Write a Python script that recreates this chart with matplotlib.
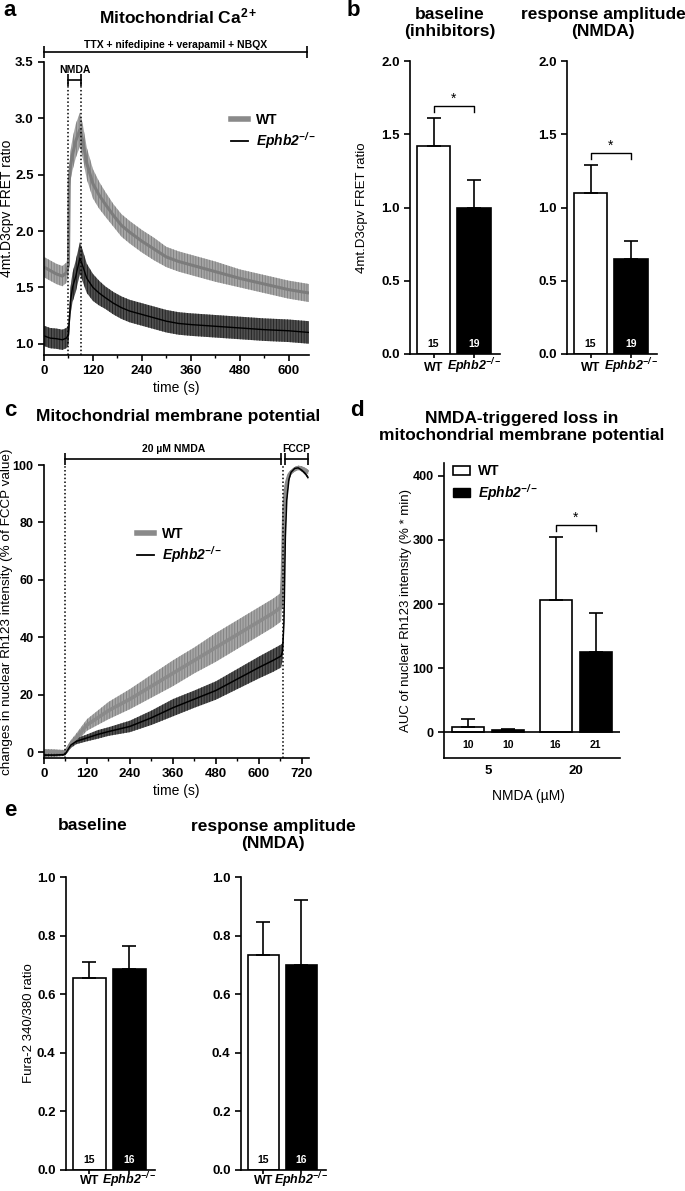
import numpy as np
import matplotlib
matplotlib.use("Agg")
import matplotlib.pyplot as plt
from matplotlib.lines import Line2D
from matplotlib.patches import Patch

plt.rcParams['font.family'] = ['Liberation Sans', 'DejaVu Sans']
plt.rcParams['mathtext.fontset'] = 'custom'
plt.rcParams['mathtext.rm'] = 'Liberation Sans'
plt.rcParams['mathtext.it'] = 'Liberation Sans:italic'
plt.rcParams['mathtext.bf'] = 'Liberation Sans:bold'
plt.rcParams['mathtext.bfit'] = 'Liberation Sans:italic:bold'
plt.rcParams['hatch.linewidth'] = 0.6

# ---- data ----
# a: mitochondrial Ca2+ (4mt.D3cpv FRET ratio), mean and SEM
a_time = [0, 15, 30, 45, 55, 60, 62, 65, 70, 78, 88, 95, 105, 120, 135, 150,
          170, 190, 210, 240, 270, 300, 330, 360, 420, 480, 540, 600, 650]
a_wt = [1.68, 1.65, 1.62, 1.60, 1.63, 1.70, 2.45, 2.58, 2.68, 2.80, 2.90, 2.80,
        2.60, 2.42, 2.32, 2.24, 2.14, 2.05, 1.99, 1.91, 1.84, 1.77, 1.73, 1.70,
        1.64, 1.58, 1.53, 1.48, 1.45]
a_wt_sem = [0.09, 0.09, 0.09, 0.09, 0.09, 0.09, 0.12, 0.13, 0.14, 0.15, 0.15,
            0.15, 0.14, 0.13, 0.12, 0.11, 0.10, 0.10, 0.10, 0.10, 0.10, 0.09,
            0.09, 0.09, 0.09, 0.08, 0.08, 0.08, 0.08]
a_ko = [1.07, 1.05, 1.045, 1.035, 1.05, 1.08, 1.20, 1.38, 1.50, 1.60, 1.76,
        1.69, 1.58, 1.50, 1.45, 1.41, 1.36, 1.32, 1.29, 1.26, 1.23, 1.20, 1.18,
        1.17, 1.155, 1.14, 1.125, 1.115, 1.10]
a_ko_sem = [0.09, 0.09, 0.09, 0.09, 0.09, 0.09, 0.11, 0.12, 0.13, 0.14, 0.14,
            0.14, 0.13, 0.12, 0.11, 0.10, 0.10, 0.10, 0.10, 0.10, 0.10, 0.10,
            0.10, 0.10, 0.10, 0.10, 0.10, 0.10, 0.10]
a_nmda = (60, 90)

# b: bar summaries
b_base = [1.42, 1.00]
b_base_err = [0.19, 0.19]
b_resp = [1.10, 0.65]
b_resp_err = [0.19, 0.12]
b_n = [15, 19]

# c: mitochondrial membrane potential (% of FCCP value)
c_time = [0, 30, 55, 60, 65, 75, 90, 120, 150, 180, 240, 300, 360, 420, 480,
          540, 600, 640, 662, 666, 670, 674, 678, 684, 690, 700, 710, 720, 730, 738]
c_wt = [0.3, 0.2, 0.0, 0.0, 1.0, 3.0, 5.0, 9.5, 12.0, 14.5, 18.5, 23.0, 27.5,
        32.0, 36.5, 41.0, 45.5, 48.5, 50.5, 62.0, 84.0, 91.0, 94.0, 96.5, 97.5,
        98.5, 99.0, 98.8, 98.2, 97.5]
c_wt_sem = [0.8, 0.8, 0.8, 0.8, 1.0, 1.2, 1.5, 2.0, 2.5, 3.0, 3.5, 4.0, 4.5,
            4.5, 5.0, 5.0, 5.0, 5.0, 5.0, 4.0, 3.0, 2.0, 1.5, 1.0, 0.8, 0.8,
            0.8, 0.8, 0.8, 0.8]
c_ko = [-1.0, -1.0, -0.8, -0.5, 0.5, 2.5, 3.8, 5.0, 6.2, 7.2, 9.0, 12.0, 15.5,
        18.5, 21.5, 25.5, 29.5, 32.0, 33.5, 35.0, 45.0, 75.0, 88.0, 95.0, 97.5,
        98.8, 99.0, 98.2, 97.0, 95.5]
c_ko_sem = [0.5, 0.5, 0.5, 0.5, 0.7, 1.0, 1.0, 1.2, 1.5, 1.5, 2.0, 2.5, 3.0,
            3.0, 3.2, 3.5, 3.8, 4.0, 4.0, 3.0, 2.0, 1.5, 1.0, 0.7, 0.5, 0.5,
            0.5, 0.5, 0.5, 0.5]
c_nmda = (60, 662)
c_fccp = (672, 738)
c_dotted = [60, 667]

# d: AUC of nuclear Rh123 intensity
d_conc = ['5', '20']
d_wt = [8, 207]
d_wt_err = [13, 97]
d_ko = [3, 125]
d_ko_err = [2, 61]
d_wt_n = [10, 16]
d_ko_n = [10, 21]

# e: Fura-2 340/380
e_base = [0.655, 0.685]
e_base_err = [0.055, 0.08]
e_resp = [0.735, 0.70]
e_resp_err = [0.11, 0.22]
e_n = [15, 16]

KO = r'$\mathbfit{Ephb2}^{\mathbfit{-/-}}$'

W, H = 685, 1191
fig = plt.figure(figsize=(W / 100, H / 100), dpi=100)


def axes_px(l, t, r, b):
    return fig.add_axes([l / W, 1 - b / H, (r - l) / W, (b - t) / H])


def style(ax):
    for s in ['top', 'right']:
        ax.spines[s].set_visible(False)
    for s in ['left', 'bottom']:
        ax.spines[s].set_linewidth(1.2)
    ax.tick_params(direction='out', length=4, width=1.2, labelsize=9.5)
    ax.tick_params(which='minor', length=2.5, width=1.0)


def yticks(ax, vals, fmt, size=9.5):
    ax.set_yticks(vals, labels=[fmt % v for v in vals], fontweight='bold', fontsize=size)


def trace(ax, t, m, s, face, hatch, line, lw):
    t, m, s = np.asarray(t), np.asarray(m), np.asarray(s)
    ax.fill_between(t, m - s, m + s, facecolor=face, edgecolor='none', lw=0)
    ax.fill_between(t, m - s, m + s, facecolor='none', edgecolor=hatch,
                    hatch='||||||', lw=0)
    ax.plot(t, m, color=line, lw=lw, solid_capstyle='butt')


def span(ax, x0, x1, y, ty, label):
    ax.plot([x0, x1], [y, y], color='k', lw=1.2, marker='|', ms=8, mew=1.2,
            clip_on=False)
    ax.text((x0 + x1) / 2, ty, label, ha='center', va='center', fontsize=7.5,
            fontweight='bold', clip_on=False)


def sig(ax, x0, x1, y, h):
    ax.plot([x0, x0, x1, x1], [y - h, y, y, y - h], color='k', lw=1)
    ax.text((x0 + x1) / 2, y, '*', ha='center', va='bottom', fontsize=10)


def pair_bars(ax, means, errs, ns, ymax, step, ylabel=None, star=False, pad=9):
    style(ax)
    x = np.arange(len(means))
    ax.bar(x, means, width=0.82, color=['white', 'black'], edgecolor='black',
           lw=1.2, yerr=[np.zeros(len(errs)), errs],
           error_kw=dict(ecolor='k', elinewidth=1.2, capsize=5, capthick=1.2))
    for xi, n, c in zip(x, ns, ['black', 'white']):
        ax.text(xi, ymax * 0.018, str(n), ha='center', va='bottom', color=c,
                fontsize=7.5, fontweight='bold')
    ax.set_xlim(-0.58, 1.64)
    ax.set_ylim(0, ymax)
    yticks(ax, np.round(np.arange(0, ymax + 1e-9, step), 2), '%.1f')
    ax.set_xticks(x, labels=['WT', KO], fontweight='bold', fontsize=9)
    for lab in ax.get_xticklabels():
        lab.set_verticalalignment('baseline')
    ax.tick_params(axis='x', length=3, pad=pad)
    if star:
        top = max(m + e for m, e in zip(means, errs))
        sig(ax, 0, 1, top + 0.042 * ymax, 0.02 * ymax)
    if ylabel:
        ax.set_ylabel(ylabel, fontsize=9.5)
    return ax


wt_handle = Line2D([], [], color='#8a8a8a', lw=4)
ko_handle = Line2D([], [], color='black', lw=1.3)
leg_kw = dict(frameon=False, borderpad=0, borderaxespad=0, handlelength=1.2,
              handletextpad=0.6, labelspacing=0.25,
              prop=dict(weight='bold', size=10))

# ---- panel a ----
ax = axes_px(44, 62, 309, 355)
style(ax)
trace(ax, a_time, a_wt, a_wt_sem, '#a6a6a6', '#7e7e7e', '#7c7c7c', 2.2)
trace(ax, a_time, a_ko, a_ko_sem, '#505050', '#222222', 'black', 1.0)
ax.set_xlim(0, 650)
ax.set_ylim(0.9, 3.5)
ax.set_xticks(np.arange(0, 601, 120), labels=[str(v) for v in range(0, 601, 120)],
              fontweight='bold', fontsize=9.5)
ax.set_xticks(np.arange(60, 650, 120), minor=True)
yticks(ax, np.arange(1.0, 3.51, 0.5), '%.1f')
for t in a_nmda:
    ax.plot([t, t], [0.9, 3.32], color='k', ls=(0, (1, 1.5)), lw=1.1)
span(ax, 0, 645, 3.59, 3.655, 'TTX + nifedipine + verapamil + NBQX')
span(ax, a_nmda[0], a_nmda[1], 3.34, 3.43, 'NMDA')
ax.set_xlabel('time (s)', fontsize=10)
ax.xaxis.set_label_coords(0.5, -(381 - 355) / 293)
ax.set_ylabel('4mt.D3cpv FRET ratio', fontsize=10)
ax.yaxis.set_label_coords((14 - 44) / 265, 0.5)
ax.legend([wt_handle, ko_handle], ['WT', KO], loc='upper left',
          bbox_to_anchor=(231 / W, 1 - 113 / H), bbox_transform=fig.transFigure,
          **leg_kw)

# ---- panel b ----
b1 = pair_bars(axes_px(410, 61, 500, 354), b_base, b_base_err, b_n, 2.0, 0.5,
               ylabel='4mt.D3cpv FRET ratio', star=True)
b1.yaxis.set_label_coords((368 - 410) / 90, 0.5)
pair_bars(axes_px(567, 61, 657, 354), b_resp, b_resp_err, b_n, 2.0, 0.5, star=True)

# ---- panel c ----
ax = axes_px(44, 465, 309, 758)
style(ax)
trace(ax, c_time, c_wt, c_wt_sem, '#a6a6a6', '#7e7e7e', '#8a8a8a', 2.6)
trace(ax, c_time, c_ko, c_ko_sem, '#505050', '#222222', 'black', 1.1)
ax.set_xlim(0, 740)
ax.set_ylim(-2, 100)
ax.set_xticks(np.arange(0, 721, 120), labels=[str(v) for v in range(0, 721, 120)],
              fontweight='bold', fontsize=9.5)
ax.set_xticks(np.arange(60, 740, 120), minor=True)
yticks(ax, np.arange(0, 101, 20), '%d', size=9)
for t in c_dotted:
    ax.plot([t, t], [-2, 100], color='k', ls=(0, (1, 1.5)), lw=1.1)
span(ax, c_nmda[0], c_nmda[1], 102, 105.5, '20 µM NMDA')
span(ax, c_fccp[0], c_fccp[1], 102, 105.5, 'FCCP')
ax.set_xlabel('time (s)', fontsize=10)
ax.xaxis.set_label_coords(0.5, -(784 - 758) / 293)
ax.set_ylabel('changes in nuclear Rh123 intensity (% of FCCP value)', fontsize=9.7)
ax.yaxis.set_label_coords((13 - 44) / 265, 0.5)
ax.legend([wt_handle, ko_handle], ['WT', KO], loc='upper left',
          bbox_to_anchor=(137 / W, 1 - 527 / H), bbox_transform=fig.transFigure,
          **leg_kw)

# ---- panel d ----
ax = axes_px(444, 463, 620, 758)
style(ax)
grp = np.arange(len(d_conc)) * 2.19 + 0.5
wt_x, ko_x = grp - 0.5, grp + 0.5
ax.bar(wt_x, d_wt, width=0.8, color='white', edgecolor='black', lw=1.2,
       yerr=[np.zeros(2), d_wt_err],
       error_kw=dict(ecolor='k', elinewidth=1.2, capsize=5, capthick=1.2))
ax.bar(ko_x, d_ko, width=0.8, color='black', edgecolor='black', lw=1.2,
       yerr=[np.zeros(2), d_ko_err],
       error_kw=dict(ecolor='k', elinewidth=1.2, capsize=5, capthick=1.2))
ax.axhline(0, color='k', lw=1.2)
for xs, ns in [(wt_x, d_wt_n), (ko_x, d_ko_n)]:
    for xi, n in zip(xs, ns):
        ax.text(xi, -20, str(n), ha='center', va='center', fontsize=7.5,
                fontweight='bold')
ax.set_xlim(-0.6, 3.8)
ax.set_ylim(-40, 420)
yticks(ax, np.arange(0, 401, 100), '%d', size=9)
ax.set_xticks(grp, labels=d_conc, fontweight='bold', fontsize=9.5)
ax.tick_params(axis='x', length=0, pad=5)
top = d_wt[1] + d_wt_err[1]
sig(ax, wt_x[1], ko_x[1], top + 0.042 * 460, 0.02 * 460)
ax.set_xlabel('NMDA (µM)', fontsize=10)
ax.xaxis.set_label_coords((528 - 444) / 176, -(789 - 758) / 295)
ax.set_ylabel('AUC of nuclear Rh123 intensity (% * min)', fontsize=9.5)
ax.yaxis.set_label_coords((412 - 444) / 176, 0.5)
ax.legend([Patch(facecolor='white', edgecolor='black', lw=1.2),
           Patch(facecolor='black', edgecolor='black')], ['WT', KO],
          loc='upper left', bbox_to_anchor=(453 / W, 1 - 464 / H),
          bbox_transform=fig.transFigure, frameon=False, borderpad=0,
          borderaxespad=0, handlelength=1.2, handleheight=0.6,
          handletextpad=0.6, labelspacing=0.3, prop=dict(weight='bold', size=10))

# ---- panel e ----
e1 = pair_bars(axes_px(66, 877, 155, 1170), e_base, e_base_err, e_n, 1.0, 0.2,
               ylabel='Fura-2 340/380 ratio', pad=7)
e1.yaxis.set_label_coords((35 - 66) / 89, 0.5)
pair_bars(axes_px(241, 877, 326, 1170), e_resp, e_resp_err, e_n, 1.0, 0.2, pad=7)

# ---- titles and panel letters ----
def ftext(x, y, s, **kw):
    fig.text(x / W, 1 - y / H, s, ha='center', va='center', **kw)


tkw = dict(fontsize=12.5, fontweight='bold', linespacing=1.15)
ftext(178, 16, r'Mitochondrial Ca$^{\mathbf{2+}}$', **tkw)
ftext(450, 23, 'baseline\n(inhibitors)', **tkw)
ftext(603, 23, 'response amplitude\n(NMDA)', **tkw)
ftext(178, 416, 'Mitochondrial membrane potential', **tkw)
ftext(522, 427, 'NMDA-triggered loss in\nmitochondrial membrane potential', **tkw)
ftext(93, 826, 'baseline', **tkw)
ftext(273, 835, 'response amplitude\n(NMDA)', **tkw)

lkw = dict(fontsize=16, fontweight='bold')
ftext(10, 11, 'a', **lkw)
ftext(353, 11, 'b', **lkw)
ftext(10, 411, 'c', **lkw)
ftext(357, 411, 'd', **lkw)
ftext(10, 811, 'e', **lkw)

fig.savefig('out.png', dpi=100)
